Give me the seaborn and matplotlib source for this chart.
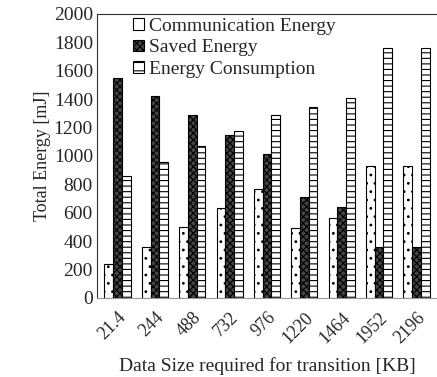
import matplotlib
matplotlib.use("Agg")
import matplotlib.pyplot as plt
import seaborn as sns
import pandas as pd

sizes = ["21.4", "244", "488", "732", "976", "1220", "1464", "1952", "2196"]
communication = [235, 360, 500, 635, 770, 490, 565, 930, 930]
saved = [1550, 1420, 1290, 1150, 1010, 710, 640, 355, 355]
consumption = [860, 960, 1070, 1175, 1290, 1345, 1410, 1760, 1760]
series_names = ["Communication Energy", "Saved Energy", "Energy Consumption"]

rows = []
for name, vals in zip(series_names, [communication, saved, consumption]):
    for s, v in zip(sizes, vals):
        rows.append({"size": s, "series": name, "value": v})
df = pd.DataFrame(rows)

sns.set_style("white")
plt.rcParams['font.family'] = ['Liberation Serif', 'DejaVu Serif']
plt.rcParams['hatch.linewidth'] = 0.8

fig = plt.figure(figsize=(4.37, 3.77), dpi=100)
ax = fig.add_axes([0.222, 0.21, 0.778, 0.753])

sns.barplot(data=df, x="size", y="value", hue="series", order=sizes,
            hue_order=series_names, ax=ax, width=0.7, gap=0.0,
            palette=["white", "#444444", "white"], edgecolor="black",
            linewidth=0.8, saturation=1)

hatches = ["..", "xxxxx", "---"]
for cont, h in zip(ax.containers, hatches):
    for bar in cont:
        bar.set_hatch(h)
        bar.set_edgecolor("black")

ax.set_ylim(0, 2000)
ax.set_yticks(range(0, 2001, 200))
ax.tick_params(axis="y", labelsize=14, length=0, pad=3)
ax.tick_params(axis="x", labelsize=13, length=0, pad=8)
ax.set_xticks(range(len(sizes)))
ax.set_xticklabels(sizes, rotation=45, ha="right", rotation_mode="anchor")
ax.set_ylabel("Total Energy [mJ]", fontsize=13, labelpad=2)
ax.set_xlabel("Data Size required for transition [KB]", fontsize=14, labelpad=8)
ax.set_xlim(-0.55, len(sizes) - 0.45)

for sp in ["left", "top"]:
    ax.spines[sp].set_color("#333333")
    ax.spines[sp].set_linewidth(0.8)
ax.spines["bottom"].set_color("#999999")
ax.spines["right"].set_visible(False)

leg = ax.legend(loc="upper left", bbox_to_anchor=(0.07, 1.03), frameon=False,
                fontsize=14, handlelength=0.55, handleheight=0.55,
                handletextpad=0.25, labelspacing=0.22, borderpad=0.15)
for hnd, h, fc in zip(leg.legend_handles, ["", "xxxxx", "--"], ["white", "#444444", "white"]):
    hnd.set_hatch(h)
    hnd.set_facecolor(fc)
    hnd.set_edgecolor("black")
    hnd.set_linewidth(0.8)

fig.savefig("out.png", dpi=100)
